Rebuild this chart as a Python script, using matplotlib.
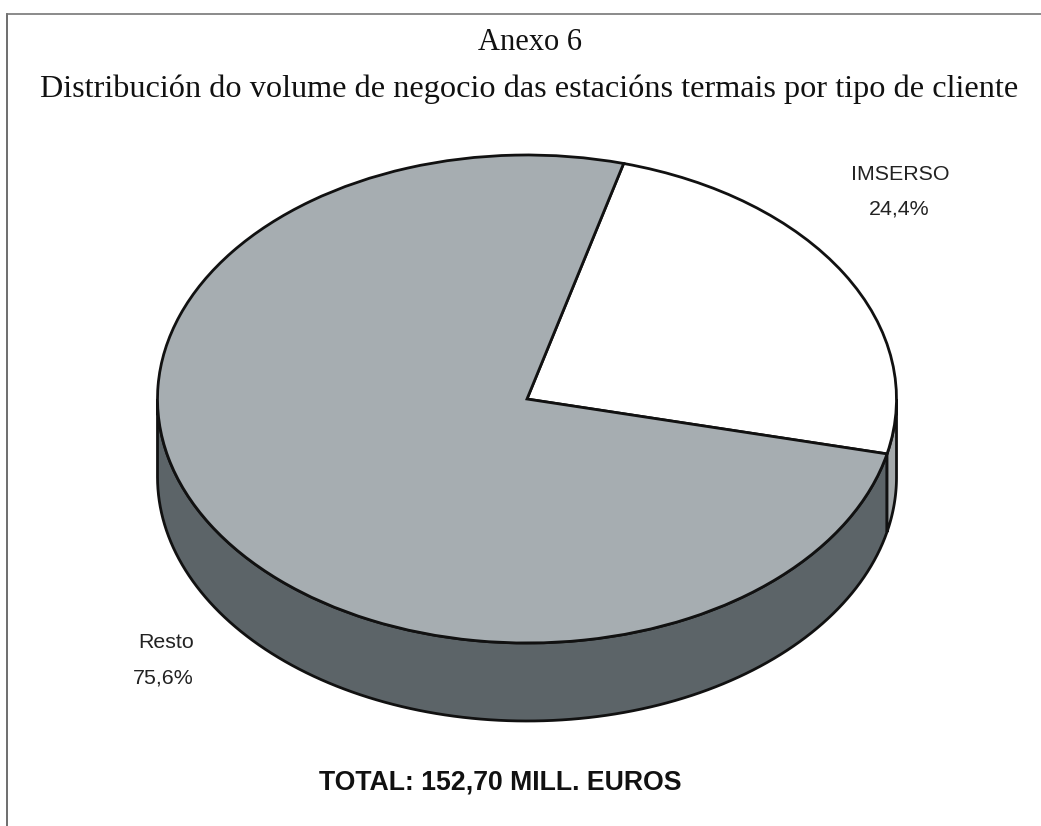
# Anexo 6: 3D-look pie of business volume by client type
import numpy as np
from matplotlib import pyplot as plt
from matplotlib.patches import Polygon

categories = ['IMSERSO', 'Resto']
values = [24.4, 75.6]
value_labels = ['24,4%', '75,6%']
title_top = 'Anexo 6'
title_main = 'Distribución do volume de negocio das estacións termais por tipo de cliente'
total_label = 'TOTAL: 152,70 MILL. EUROS'

W, H = 1041, 826
CX, CY = 527, 399
RX_PX, RY_PX = 369.5, 244
DEPTH_PX = 78
START = -13.0

fig = plt.figure(figsize=(W / 100, H / 100), dpi=100, facecolor='white')

# page frame, in pixels
page = fig.add_axes([0, 0, 1, 1])
page.set_xlim(0, W)
page.set_ylim(H, 0)
page.axis('off')
page.plot([7, 7], [14, 826], color='#555555', lw=1.2)
page.plot([7, 1041], [14, 14], color='#777777', lw=1.2)

serif = dict(family='Liberation Serif', color='#111111', ha='center', va='center')
label = dict(family='Liberation Sans', fontsize=15.4, color='#222222', ha='center', va='center')
page.text(530, 42, title_top, fontsize=22, **serif)
page.text(529.5, 89, title_main, fontsize=23.2, **serif)
page.text(900, 174, categories[0], **label)
page.text(899, 209, value_labels[0], **label)
page.text(166, 643, categories[1], **label)
page.text(163, 678, value_labels[1], **label)
page.text(500, 783, total_label, family='Liberation Sans', fontsize=19.2, weight='bold', color='#111111', ha='center', va='center')

# pie axes, one data unit is the radius (x and y scaled separately for the ellipse)
ax = fig.add_axes([0, 0, 1, 1])
ax.patch.set_alpha(0)
wedges, _ = ax.pie(values, startangle=START, counterclock=True, center=(0, 0), radius=1,
                   colors=['white', '#a6adb1'], wedgeprops={'edgecolor': '#111111', 'linewidth': 2, 'zorder': 3})
ax.set_aspect('auto')
ax.set_xlim(-CX / RX_PX, (W - CX) / RX_PX)
ax.set_ylim((CY - H) / RY_PX, CY / RY_PX)
ax.axis('off')


def side_wall(a0, a1, color):
    t = np.radians(np.linspace(a0, a1, 120))
    x, y = np.cos(t), np.sin(t)
    d = DEPTH_PX / RY_PX
    pts = np.vstack([np.c_[x, y], np.c_[x[::-1], y[::-1] - d]])
    ax.add_patch(Polygon(pts, closed=True, facecolor=color, edgecolor='#111111', lw=2, zorder=2))


# visible wall is the front half of the ellipse, split where the slices meet
side_wall(180, 360 + START, '#5c6468')
side_wall(START, 0, '#a4a9ab')

fig.savefig('out.png', dpi=100)
